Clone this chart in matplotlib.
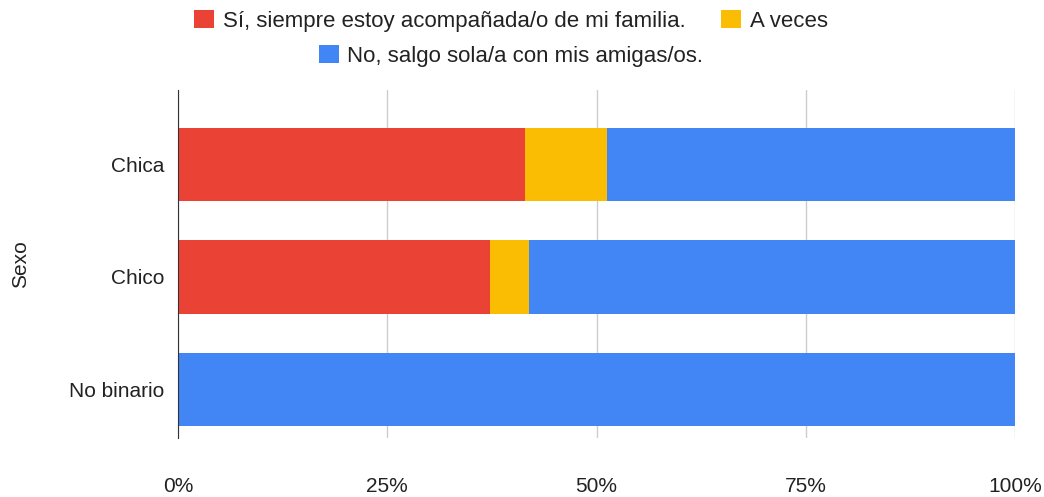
import numpy as np
import matplotlib.pyplot as plt
from matplotlib.patches import Patch
from matplotlib.ticker import FuncFormatter

plt.rcParams['font.family'] = ['Liberation Sans', 'DejaVu Sans']

categorias = ['Chica', 'Chico', 'No binario']
series = ['Sí, siempre estoy acompañada/o de mi familia.', 'A veces',
          'No, salgo sola/a con mis amigas/os.']
siempre = [41.5, 37.3, 0.0]
a_veces = [9.7, 4.6, 0.0]
no_sola = [48.8, 58.1, 100.0]
colores = ['#ea4335', '#fbbc04', '#4285f4']

fs = 15
fs_leg = 16

fig = plt.figure(figsize=(10.44, 4.97), dpi=100)
ax = fig.add_axes([178/1044, 1 - 438/497, (1015 - 178)/1044, (438 - 90)/497])

y = np.arange(len(categorias))
izq = np.zeros(len(categorias))
for vals, col in zip([siempre, a_veces, no_sola], colores):
    ax.barh(y, vals, left=izq, height=0.65, color=col, edgecolor='none', zorder=3)
    izq += np.array(vals)

ax.set_xlim(0, 100)
ax.set_ylim(2.43, -0.66)
ax.set_xticks([0, 25, 50, 75, 100])
ax.xaxis.set_major_formatter(FuncFormatter(lambda v, p: f'{v:.0f}%'))
ax.set_yticks(y)
ax.set_yticklabels(categorias)
ax.grid(axis='x', color='#cccccc', linewidth=1, zorder=0)
for s in ['top', 'right', 'bottom']:
    ax.spines[s].set_visible(False)
ax.spines['left'].set_color('#333333')
ax.spines['left'].set_zorder(4)
ax.tick_params(length=0, labelsize=fs, colors='#222222')
ax.tick_params(axis='x', pad=28)
ax.tick_params(axis='y', pad=10)
ax.set_ylabel('Sexo', fontsize=fs, color='#222222', labelpad=28)

h = [Patch(facecolor=c, edgecolor='none') for c in colores]
leg1 = fig.legend(h[:2], series[:2], loc='center', bbox_to_anchor=(0.4895, 1 - 21/497),
                  ncol=2, frameon=False, fontsize=fs_leg, handlelength=0.9, handleheight=0.9,
                  columnspacing=1.6, handletextpad=0.4)
leg2 = fig.legend(h[2:], series[2:], loc='center', bbox_to_anchor=(0.4895, 1 - 56/497),
                  frameon=False, fontsize=fs_leg, handlelength=0.9, handleheight=0.9,
                  handletextpad=0.4)
for lg in (leg1, leg2):
    for t in lg.get_texts():
        t.set_color('#222222')

fig.savefig('out.png', dpi=100)
